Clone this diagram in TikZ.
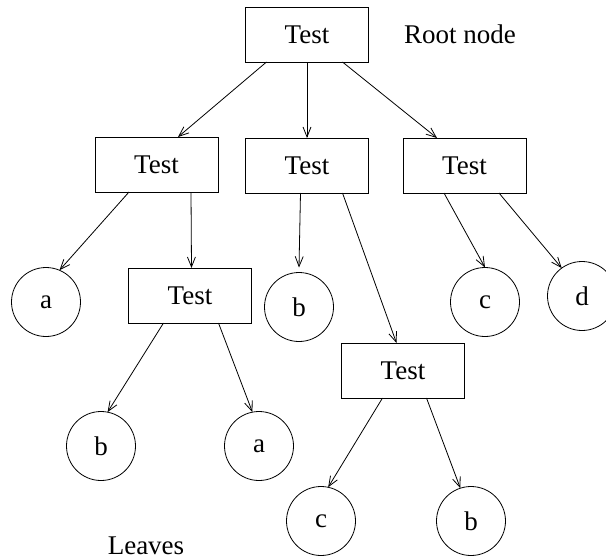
\documentclass[tikz,border=0pt]{standalone}
\usepackage{fontspec}
\setmainfont{Liberation Serif}
\usetikzlibrary{arrows.meta}
\begin{document}
\begin{tikzpicture}[x=1pt,y=-1pt,
  every node/.style={font=\fontsize{27}{30}\selectfont, outer sep=0pt},
  testbox/.style={draw, line width=0.8pt, minimum width=123pt, minimum height=55pt, inner sep=0pt},
  leaf/.style={draw, circle, line width=0.8pt, minimum size=69pt, inner sep=0pt},
  edge/.style={line width=0.8pt, -{Straight Barb[length=10pt,width=8pt]}}]
\useasboundingbox (0,0) rectangle (606,560);

% decision nodes
\node[testbox] (root) at (307,34.5) {Test};
\node[testbox] (L1) at (156.5,164.5) {Test};
\node[testbox] (M1) at (307,165.5) {Test};
\node[testbox] (R1) at (464.5,165.5) {Test};
\node[testbox] (T2) at (190,295.5) {Test};
\node[testbox] (T3) at (403,370.5) {Test};

% leaves
\node[leaf] (a1) at (46,302) {a};
\node[leaf] (b1) at (299,307) {b};
\node[leaf] (c1) at (485,302) {c};
\node[leaf] (d1) at (582,296) {d};
\node[leaf] (b2) at (101,446) {b};
\node[leaf] (a2) at (259,446) {a};
\node[leaf] (c2) at (321,521) {c};
\node[leaf] (b3) at (471,521) {b};

% labels
\node (rootlabel) at (460,34) {Root node};
\node (leaveslabel) at (146,546) {Leaves};

% branches
\draw[edge] ([xshift=21pt]root.south west) -- ([xshift=83pt]L1.north west);
\draw[edge] (root.south) -- (M1.north);
\draw[edge] ([xshift=97pt]root.south west) -- ([xshift=34pt]R1.north west);

\draw[edge] ([xshift=34pt]L1.south west) -- (a1.67);
\draw[edge] ([xshift=96pt]L1.south west) -- ([xshift=63pt]T2.north west);

\draw[edge] ([xshift=55pt]M1.south west) -- ([yshift=5pt]b1.north);
\draw[edge] ([xshift=97pt]M1.south west) -- ([xshift=55pt]T3.north west);

\draw[edge] ([xshift=41pt]R1.south west) -- (c1.north);
\draw[edge] ([xshift=96pt]R1.south west) -- (d1.126);

\draw[edge] ([xshift=35pt]T2.south west) -- (b2.79);
\draw[edge] ([xshift=90pt]T2.south west) -- (a2.101);

\draw[edge] ([xshift=41pt]T3.south west) -- (c2.78);
\draw[edge] ([xshift=85pt]T3.south west) -- (b3.108);
\end{tikzpicture}
\end{document}
